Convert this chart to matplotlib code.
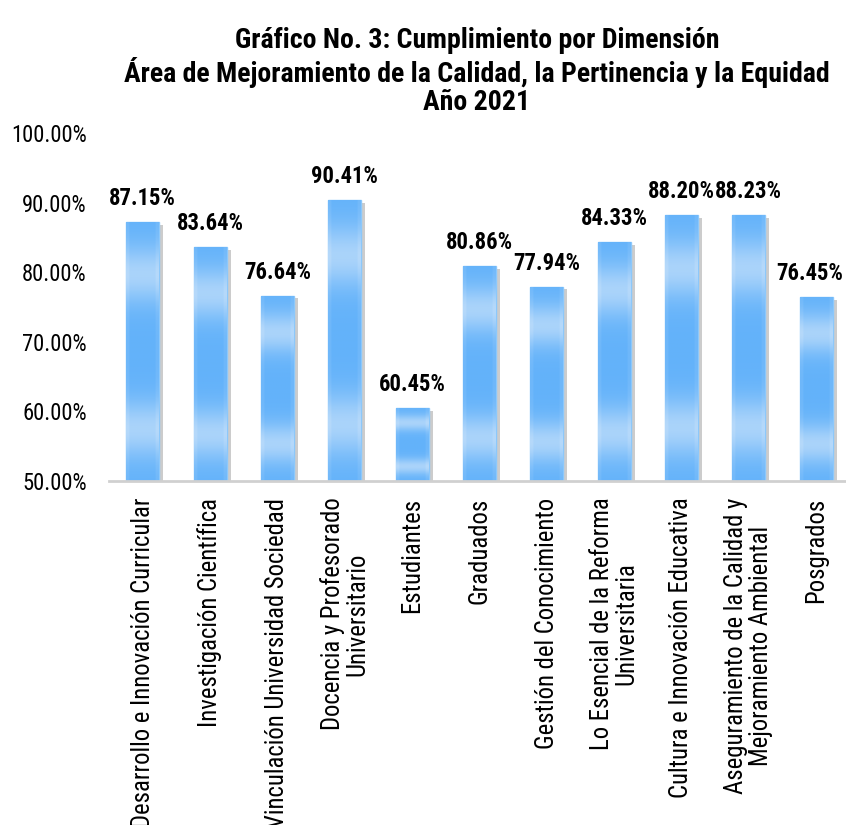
import numpy as np
import matplotlib
matplotlib.use("Agg")
import matplotlib.pyplot as plt
import matplotlib.patheffects as pe
from matplotlib.colors import to_rgb

categories = [
    "Desarrollo e Innovación Curricular",
    "Investigación Científica",
    "Vinculación Universidad Sociedad",
    "Docencia y Profesorado\nUniversitario",
    "Estudiantes",
    "Graduados",
    "Gestión del Conocimiento",
    "Lo Esencial de la Reforma\nUniversitaria",
    "Cultura e Innovación Educativa",
    "Aseguramiento de la Calidad y\nMejoramiento Ambiental",
    "Posgrados",
]
values = [87.15, 83.64, 76.64, 90.41, 60.45, 80.86, 77.94, 84.33, 88.20, 88.23, 76.45]
yticks = [50, 60, 70, 80, 90, 100]
title_lines = [
    "Gráfico No. 3: Cumplimiento por Dimensión",
    "Área de Mejoramiento de la Calidad, la Pertinencia y la Equidad",
    "Año 2021",
]

FONT = ["Roboto Condensed", "Liberation Sans", "DejaVu Sans"]
plt.rcParams["font.family"] = FONT

W, H = 846, 825
fig = plt.figure(figsize=(W / 100, H / 100), dpi=100)
renderer = fig.canvas.get_renderer()


def fit_size(s, target_px, weight="normal", ref=20.0):
    t = fig.text(0, 0, s, fontsize=ref, fontweight=weight)
    w = t.get_window_extent(renderer=renderer).width
    t.remove()
    return ref * target_px / w


fs_tick = fit_size("100.00%", 76)
fs_data = fit_size("87.15%", 67, "bold")
fs_cat = fit_size("Cultura e Innovación Educativa", 300)
fs_title = fit_size(title_lines[1], 705, "bold")

ax = fig.add_axes([109 / W, (H - 481) / H, (849.7 - 109) / W, 348 / H])

base = np.array(to_rgb("#5aaefa"))
light = np.array(to_rgb("#b8dafa"))

x = np.arange(len(values))
bars = ax.bar(x, [v - 50 for v in values], bottom=50, width=0.49, color="#5aaefa",
              edgecolor="#8cc8fb", linewidth=1.0, zorder=2)

for b in bars:
    b.set_path_effects([pe.SimplePatchShadow(offset=(3, -2), shadow_rgbFace="#808080", alpha=0.4),
                        pe.Normal()])
    x0, y0 = b.get_x(), b.get_y()
    w, h = b.get_width(), b.get_height()
    f = np.linspace(0, 1, 200)[:, None]
    band = np.exp(-((f - 0.2) / 0.11) ** 2) + np.exp(-((f - 0.8) / 0.11) ** 2)
    band = np.clip(band * 0.75 + 0.1, 0, 1)
    xs = np.linspace(-1, 1, 20)[None, :]
    edge = 0.12 * (np.abs(xs) > 0.85)
    t = np.clip(band + edge, 0, 1)
    img = base[None, None, :] * (1 - t[..., None]) + light[None, None, :] * t[..., None]
    im = ax.imshow(img, extent=[x0, x0 + w, y0, y0 + h], aspect="auto",
                   origin="upper", zorder=3, interpolation="bilinear")
    im.set_clip_path(b)

labels = []
for xi, v in zip(x, values):
    a = ax.annotate(f"{v:.2f}%", (xi, v), xytext=(0, 12.2), textcoords="offset points",
                    ha="center", va="baseline", fontsize=fs_data, fontweight="bold", zorder=5)
    labels.append(a)

ax.set_xlim(-0.5, len(values) - 0.5)
ax.set_ylim(50, 100)
ax.set_yticks(yticks)
ax.set_yticklabels([f"{t:.2f}%" for t in yticks], fontsize=fs_tick)
ax.set_xticks(x)
ax.set_xticklabels(categories, rotation=90, ha="center", va="top",
                   multialignment="center", fontsize=fs_cat, linespacing=1.05)
ax.tick_params(axis="both", length=0)
ax.tick_params(axis="y", pad=16)
ax.tick_params(axis="x", pad=12)
for s in ["left", "right", "top"]:
    ax.spines[s].set_visible(False)
ax.spines["bottom"].set_color("#d0d0d0")
ax.spines["bottom"].set_linewidth(2)
ax.spines["bottom"].set_zorder(4)

# keep data labels inside the figure (as the original chart does)
fig.canvas.draw()
for a in labels:
    bb = a.get_window_extent(renderer=renderer)
    over = bb.x1 - (W - 3)
    if over > 0:
        a.set_position((-over * 72 / 100, 12.2))

ys = [40, 72, 102]
for line, yy in zip(title_lines, ys):
    fig.text(477 / W, 1 - yy / H, line, ha="center", va="center",
             fontsize=fs_title, fontweight="bold")

fig.savefig("out.png", dpi=100)
